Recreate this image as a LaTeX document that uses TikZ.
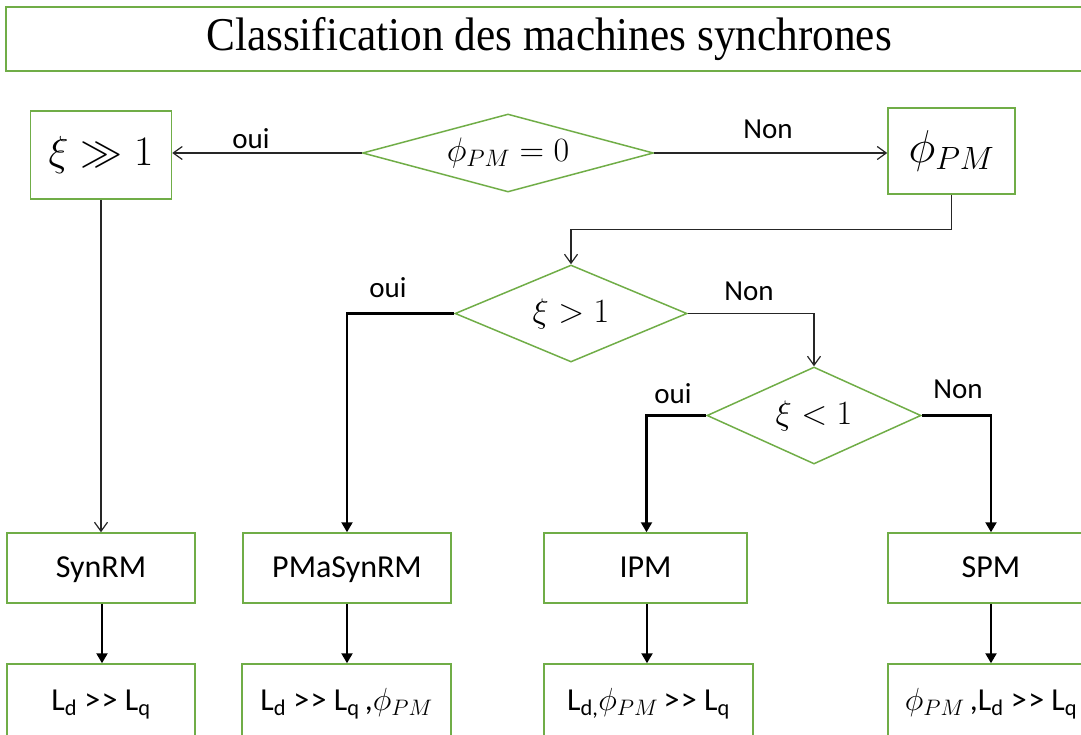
\RequirePackage{fix-cm}
\documentclass[tikz,border=0pt]{standalone}
\usepackage{fontspec}
\usetikzlibrary{shapes.geometric,arrows.meta}
\newfontfamily\carl{Carlito}
\newfontfamily\titlef[FakeStretch=0.92]{Liberation Serif}
\definecolor{grn}{HTML}{70AD47}
\newcommand{\gtgt}{>\kern1.5pt>}
\begin{document}
\begin{tikzpicture}[x=1pt,y=-1pt,
  box/.style={draw=grn,line width=1.5pt,rectangle,inner sep=0pt,font=\carl\fontsize{32}{38}\selectfont},
  mbox/.style={box,text height=22pt,text depth=3pt},
  dia/.style={draw=grn,line width=1.5pt,diamond,inner sep=0pt,font=\fontsize{34}{40}\selectfont},
  thinarrow/.style={draw=black!85,line width=1.2pt,-{Straight Barb[length=9pt,width=13pt]}},
  thickarrow/.style={draw=black,line width=2.2pt,-{Triangle[length=10pt,width=11pt]}},
  lab/.style={font=\carl\fontsize{29}{34}\selectfont,anchor=base,inner sep=0pt}]
\useasboundingbox (0,0) rectangle (1081,734);
\clip (0,0) rectangle (1081,734);

% title
\node[draw=grn,line width=1.5pt,rectangle,inner sep=0pt,minimum width=1086,minimum height=64,
      font=\titlef\fontsize{47}{50}\selectfont] (title) at (549,39) {\raisebox{-2pt}{Classification des machines synchrones}};

% decision level 1
\node[dia,minimum width=291,minimum height=78,aspect=3.7] (d1) at (508,153) {$\phi_{PM}=0$};
\node[box,minimum width=141,minimum height=88,font=\fontsize{42}{48}\selectfont] (xi) at (101,155) {\raisebox{-4pt}{$\xi\gg1$}};
\node[box,minimum width=127,minimum height=86,font=\fontsize{46}{52}\selectfont] (phi) at (951.5,151) {\raisebox{-6pt}{$\phi_{PM}$}};

% decision levels 2 and 3
\node[dia,minimum width=232,minimum height=97,aspect=2.4] (d2) at (571,313.5) {$\xi>1$};
\node[dia,minimum width=214,minimum height=97,aspect=2.2] (d3) at (814,415.5) {$\xi<1$};

% machine boxes
\node[mbox,minimum width=188,minimum height=70] (b1) at (101,568) {SynRM};
\node[mbox,minimum width=208,minimum height=70] (b2) at (347,568) {PMaSynRM};
\node[mbox,minimum width=203,minimum height=70] (b3) at (645.5,568) {IPM};
\node[mbox,minimum width=206,minimum height=70] (b4) at (991,568) {SPM};

% property boxes
\node[mbox,minimum width=188,minimum height=74] (c1) at (101,701) {L\textsubscript{d} \gtgt{} L\textsubscript{q}};
\node[mbox,minimum width=209,minimum height=74] (c2) at (346.5,701) {L\textsubscript{d} \gtgt{} L\textsubscript{q}\,,$\phi_{PM}$};
\node[mbox,minimum width=209,minimum height=74] (c3) at (648.5,701) {L\textsubscript{d,}$\phi_{PM}$\,\gtgt{} L\textsubscript{q}};
\node[mbox,minimum width=206,minimum height=74] (c4) at (991,701) {$\phi_{PM}$\,,L\textsubscript{d} \gtgt{} L\textsubscript{q}};

% connectors
\draw[thinarrow] (d1.west) -- (d1.west -| xi.east);
\draw[thinarrow] (d1.east) -- (d1.east -| phi.west);
\draw[thinarrow] (phi.south) -- ++(0,35) -| (d2.north);
\draw[thinarrow] (xi.south) -- (b1.north);
\draw[thickarrow] (d2.west) -| (b2.north);
\draw[thinarrow] (d2.east) -| (d3.north);
\draw[thickarrow] (d3.west) -| ([xshift=1pt]b3.north);
\draw[thickarrow] (d3.east) -| (b4.north);

\draw[thickarrow] ([xshift=1pt]b1.south) -- ([xshift=1pt]b1.south |- c1.north);
\draw[thickarrow] (b2.south) -- (b2.south |- c2.north);
\draw[thickarrow] ([xshift=1.5pt]b3.south) -- ([xshift=1.5pt]b3.south |- c3.north);
\draw[thickarrow] (b4.south) -- (b4.south |- c4.north);

% labels
\node[lab] (l1) at (251,148) {oui};
\node[lab] (l2) at (768,138) {Non};
\node[lab] (l3) at (388,297) {oui};
\node[lab] (l4) at (749,300) {Non};
\node[lab] (l5) at (673,403) {oui};
\node[lab] (l6) at (958,398) {Non};
\end{tikzpicture}
\end{document}
